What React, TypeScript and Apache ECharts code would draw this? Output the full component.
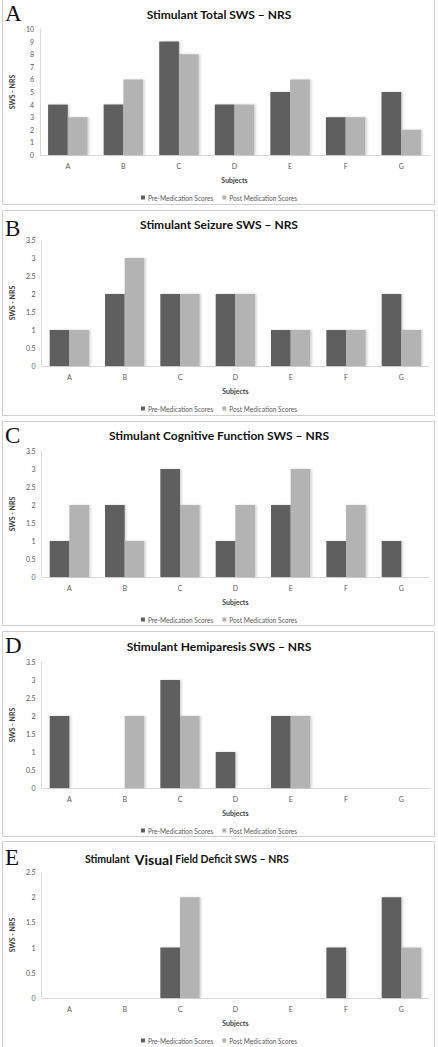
import React, { useEffect, useRef } from "react";
import * as echarts from "echarts";

const subjects = ["A", "B", "C", "D", "E", "F", "G"];
const seriesNames = ["Pre-Medication Scores", "Post Medication Scores"];

const totalPre = [4, 4, 9, 4, 5, 3, 5];
const totalPost = [3, 6, 8, 4, 6, 3, 2];
const seizurePre = [1, 2, 2, 2, 1, 1, 2];
const seizurePost = [1, 3, 2, 2, 1, 1, 1];
const cognitivePre = [1, 2, 3, 1, 2, 1, 1];
const cognitivePost = [2, 1, 2, 2, 3, 2, 0];
const hemiPre = [2, 0, 3, 1, 2, 0, 0];
const hemiPost = [0, 2, 2, 0, 2, 0, 0];
const visualPre = [0, 0, 1, 0, 0, 1, 2];
const visualPost = [0, 0, 2, 0, 0, 0, 1];

const panelLetters = ["A", "B", "C", "D", "E"];
const panelTitles = [
  "Stimulant Total SWS – NRS",
  "Stimulant Seizure SWS – NRS",
  "Stimulant Cognitive Function SWS – NRS",
  "Stimulant Hemiparesis SWS – NRS",
  "{a|Stimulant  }{b|Visual}{a| Field Deficit SWS – NRS}",
];
const yMaxes = [10, 3.5, 3.5, 3.5, 2.5];
const yIntervals = [1, 0.5, 0.5, 0.5, 0.5];
const yAxisName = "SWS - NRS";
const xAxisName = "Subjects";

const preData = [totalPre, seizurePre, cognitivePre, hemiPre, visualPre];
const postData = [totalPost, seizurePost, cognitivePost, hemiPost, visualPost];

// layout
const panelBoxes = [
  [-1, 204],
  [210, 415],
  [421, 625],
  [631, 836],
  [841, 1050],
];
const gridTops = [29, 240, 451, 662, 872];
const gridHeight = 126;
const titleYs = [14, 224, 435, 646, 859];
const letterYs = [13, 228, 435, 645, 857];
const legendTops = [189, 400, 611, 822, 1032];

const PRE_COLOR = "#5f5f5f";
const POST_COLOR = "#b3b3b3";
const LABEL_COLOR = "#595959";
const FONT = "Lato, 'Open Sans', sans-serif";

export default function App() {
  const ref = useRef<HTMLDivElement>(null);
  useEffect(() => {
    if (!ref.current) return;
    const chart = echarts.init(ref.current, undefined, { renderer: "svg" });

    const grids: any[] = [];
    const xAxes: any[] = [];
    const yAxes: any[] = [];
    const series: any[] = [];
    const legends: any[] = [];
    const graphics: any[] = [];

    for (let i = 0; i < 5; i++) {
      grids.push({ left: 35, width: 394, top: gridTops[i], height: gridHeight });
      xAxes.push({
        type: "category",
        gridIndex: i,
        data: subjects,
        name: xAxisName,
        nameLocation: "middle",
        nameGap: 21,
        nameTextStyle: { fontFamily: FONT, fontSize: 7, fontWeight: "bold", color: "#404040" },
        axisLine: { lineStyle: { color: "#d9d9d9" } },
        axisTick: { show: false },
        axisLabel: { fontFamily: FONT, fontSize: 7, color: LABEL_COLOR, margin: 7 },
      });
      yAxes.push({
        type: "value",
        gridIndex: i,
        min: 0,
        max: yMaxes[i],
        interval: yIntervals[i],
        name: yAxisName,
        nameLocation: "middle",
        nameRotate: 90,
        nameGap: 20,
        nameTextStyle: { fontFamily: FONT, fontSize: 7, fontWeight: "bold", color: "#404040" },
        axisLine: { show: true, lineStyle: { color: "#d9d9d9" } },
        axisTick: { show: false },
        splitLine: { show: false },
        axisLabel: { fontFamily: FONT, fontSize: 7, color: LABEL_COLOR, margin: 6 },
      });
      series.push({
        type: "bar",
        name: seriesNames[0],
        xAxisIndex: i,
        yAxisIndex: i,
        data: preData[i],
        barGap: "0%",
        barCategoryGap: "29%",
        itemStyle: {
          color: PRE_COLOR,
          shadowColor: "rgba(0,0,0,0.18)",
          shadowBlur: 2,
          shadowOffsetX: 1.5,
          shadowOffsetY: 0,
        },
      });
      series.push({
        type: "bar",
        name: seriesNames[1],
        xAxisIndex: i,
        yAxisIndex: i,
        data: postData[i],
        barGap: "0%",
        barCategoryGap: "29%",
        itemStyle: {
          color: POST_COLOR,
          shadowColor: "rgba(0,0,0,0.18)",
          shadowBlur: 2,
          shadowOffsetX: 1.5,
          shadowOffsetY: 0,
        },
      });
      legends.push({
        data: seriesNames,
        left: "center",
        top: legendTops[i],
        icon: "rect",
        itemWidth: 4,
        itemHeight: 4,
        itemGap: 9,
        selectedMode: false,
        textStyle: { fontFamily: FONT, fontSize: 6.6, color: LABEL_COLOR, padding: [0, 0, 0, -2] },
      });
      const [y0, y1] = panelBoxes[i];
      graphics.push({
        type: "rect",
        shape: { x: 2.5, y: y0 + 0.5, width: 432, height: y1 - y0 },
        style: { fill: "none", stroke: "#cfcfcf", lineWidth: 1 },
        z: -1,
      });
      graphics.push({
        type: "text",
        x: 5,
        y: letterYs[i],
        style: {
          text: panelLetters[i],
          fontFamily: "'Liberation Serif', 'DejaVu Serif', serif",
          fontSize: 23,
          fill: "#111",
          align: "left",
          verticalAlign: "middle",
        },
      });
      if (i < 4) {
        graphics.push({
          type: "text",
          x: 219,
          y: titleYs[i],
          style: {
            text: panelTitles[i],
            fontFamily: FONT,
            fontWeight: "bold",
            fontSize: 12,
            fill: "#111",
            align: "center",
            verticalAlign: "middle",
          },
        });
      } else {
        graphics.push({
          type: "text",
          x: 85,
          y: titleYs[i],
          style: {
            text: panelTitles[i],
            fontFamily: FONT,
            fill: "#111",
            align: "left",
            verticalAlign: "middle",
            rich: {
              a: { fontFamily: FONT, fontWeight: "bold", fontSize: 10.5, fill: "#111" },
              b: { fontFamily: FONT, fontWeight: "bold", fontSize: 14, fill: "#111" },
            },
          },
        });
      }
    }

    chart.setOption({
      animation: false,
      backgroundColor: "#fff",
      grid: grids,
      xAxis: xAxes,
      yAxis: yAxes,
      series,
      legend: legends,
      graphic: graphics,
    });
    return () => chart.dispose();
  }, []);

  return (
    <div
      ref={ref}
      style={{ position: "absolute", left: 0, top: 0, width: 438, height: 1047 }}
    />
  );
}
